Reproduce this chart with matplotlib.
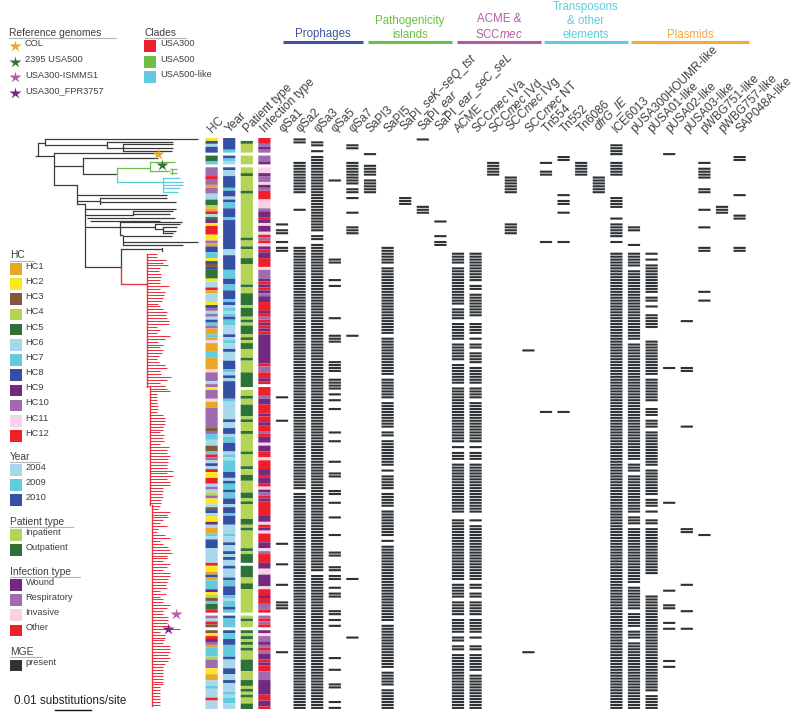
import matplotlib
matplotlib.use('Agg')
import matplotlib.pyplot as plt
from matplotlib.patches import Rectangle
from matplotlib.transforms import ScaledTranslation

plt.rcParams['font.family'] = ['Liberation Sans', 'DejaVu Sans']
plt.rcParams['mathtext.fontset'] = 'custom'
plt.rcParams['mathtext.rm'] = 'Liberation Sans'
plt.rcParams['mathtext.it'] = 'Liberation Sans:italic'
plt.rcParams['mathtext.default'] = 'regular'

W, H = 797, 720
TXT = '#3c3f42'
N_ROWS = 195

column_labels = ['HC', 'Year', 'Patient type', 'Infection type',
    'φSa1', 'φSa2', 'φSa3', 'φSa5', 'φSa7', 'SaPI3', 'SaPI5',
    r'SaPI_$\mathit{seK\mathrm{-}seQ\_tst}$', r'SaPI_$\mathit{ear}$', r'SaPI_$\mathit{ear\_seC\_seL}$',
    'ACME', r'SCC$\mathit{mec}$ IVa', r'SCC$\mathit{mec}$ IVd', r'SCC$\mathit{mec}$ IVg', r'SCC$\mathit{mec}$ NT',
    r'Tn$\mathit{554}$', 'Tn552', 'Tn6086', r'$\mathit{dfrG\_IE}$', 'ICE6013', 'pUSA300HOUMR-like',
    'pUSA01-like', 'pUSA02-like', 'pUSA03-like', 'pWBG751-like', 'pWBG757-like', 'SAP048A-like']

# strips: (first row, category); each run lasts until the next one. 0 = missing
hc_runs = [(0,2),(1,8),(2,6),(3,8),(5,0),(6,5),(8,7),(9,0),(10,10),(13,12),(14,10),(16,1),(17,10),(19,6),(21,5),(23,4),(24,1),(25,12),(26,6),(27,5),(28,9),(29,2),(30,12),(33,2),(35,10),(36,1),(37,8),(39,7),(41,2),(42,8),(43,3),(44,8),(45,5),(48,2),(49,6),(51,12),(52,1),(53,6),(56,2),(57,8),(58,10),(59,6),(60,10),(61,6),(62,8),(63,7),(64,10),(65,1),(67,7),(68,1),(69,11),(70,1),(73,7),(75,1),(79,11),(80,10),(83,6),(84,10),(85,2),(86,10),(89,11),(90,1),(92,10),(99,3),(100,10),(101,7),(103,6),(105,3),(107,7),(108,12),(109,10),(110,6),(111,8),(112,6),(113,12),(114,2),(116,12),(118,6),(119,10),(120,6),(121,4),(122,10),(123,2),(125,6),(126,3),(127,8),(128,6),(129,2),(131,9),(132,6),(133,1),(135,7),(136,6),(137,8),(140,6),(145,12),(146,2),(148,1),(149,8),(150,1),(151,7),(154,9),(155,2),(156,4),(157,3),(158,7),(159,5),(161,12),(162,0),(163,10),(164,6),(165,12),(166,3),(167,0),(168,3),(169,2),(170,12),(171,9),(172,10),(173,1),(174,7),(177,4),(178,10),(181,2),(183,1),(185,6),(187,7),(188,6),(191,12),(192,6)]
year_runs = [(0,3),(4,2),(5,0),(6,3),(7,2),(8,1),(9,0),(10,3),(11,1),(13,3),(17,2),(18,3),(20,1),(21,3),(22,2),(24,3),(27,2),(28,3),(38,1),(40,3),(45,2),(48,3),(50,2),(52,3),(55,2),(56,3),(57,1),(58,2),(59,1),(60,2),(61,3),(62,2),(64,1),(67,3),(68,1),(69,2),(70,1),(72,3),(73,1),(76,3),(79,2),(80,1),(81,3),(82,1),(83,3),(89,2),(90,1),(96,3),(97,1),(99,3),(101,1),(102,2),(104,3),(107,1),(108,2),(109,1),(110,2),(114,3),(116,1),(117,3),(118,2),(120,3),(121,2),(123,3),(125,1),(126,3),(128,2),(129,3),(132,1),(135,2),(136,1),(138,3),(139,1),(141,3),(142,1),(143,3),(144,1),(146,3),(147,1),(150,3),(151,2),(153,3),(156,2),(157,1),(158,2),(160,3),(161,2),(162,0),(163,3),(164,2),(167,0),(168,3),(169,2),(171,3),(173,2),(177,3),(178,1),(181,3),(183,1),(185,3),(186,1),(189,2),(190,1),(191,2),(193,1)]
patient_runs = [(0,0),(1,2),(2,1),(5,0),(6,1),(9,0),(10,1),(12,2),(13,1),(18,2),(19,1),(34,2),(35,1),(37,2),(38,1),(41,2),(43,1),(50,2),(51,1),(53,2),(57,1),(58,2),(61,1),(62,2),(63,1),(64,2),(67,1),(68,2),(69,1),(70,2),(72,1),(75,2),(76,1),(80,2),(85,0),(86,1),(88,2),(89,1),(91,2),(95,1),(96,2),(97,1),(100,2),(101,1),(107,2),(108,1),(112,2),(113,1),(115,2),(117,1),(121,2),(123,1),(124,2),(125,1),(130,2),(132,1),(133,2),(134,1),(140,2),(141,1),(142,2),(145,0),(146,2),(150,1),(152,2),(154,1),(162,0),(163,1),(164,2),(165,1),(167,0),(168,2),(169,1),(170,2),(171,1),(172,2),(173,1),(174,2),(175,1),(178,2),(182,1),(185,2),(187,1),(188,2),(189,1),(190,2),(191,1),(193,2)]
infection_runs = [(0,4),(2,2),(3,1),(4,2),(5,0),(6,2),(8,1),(9,0),(10,3),(12,1),(13,2),(15,3),(16,1),(17,2),(18,4),(21,3),(24,2),(25,1),(27,4),(28,1),(29,3),(30,1),(32,3),(33,4),(34,2),(35,4),(36,3),(37,1),(38,4),(39,1),(41,4),(44,3),(45,2),(48,1),(49,4),(50,1),(51,4),(52,1),(53,2),(54,1),(56,4),(59,1),(60,4),(61,2),(62,4),(63,1),(64,4),(65,1),(66,4),(67,1),(77,4),(78,2),(80,4),(82,1),(83,4),(84,0),(85,4),(88,2),(89,1),(91,4),(94,1),(95,4),(97,1),(98,4),(100,2),(101,4),(102,1),(104,3),(105,1),(107,4),(109,3),(110,4),(113,1),(115,4),(116,1),(118,4),(119,3),(120,1),(121,2),(122,4),(123,1),(124,4),(129,1),(131,3),(132,4),(133,1),(134,3),(135,4),(138,1),(140,3),(141,2),(142,4),(145,1),(147,3),(149,1),(153,3),(154,4),(156,1),(157,4),(159,2),(161,4),(162,0),(163,2),(164,4),(165,2),(166,4),(167,0),(168,1),(169,3),(170,2),(172,1),(173,2),(174,4),(175,2),(176,1),(178,4),(179,1),(180,4),(182,2),(185,1),(190,4),(192,1),(194,4)]

hc_names = ['HC1','HC2','HC3','HC4','HC5','HC6','HC7','HC8','HC9','HC10','HC11','HC12']
hc_colors = ['#E9A823','#F9E81F','#80593A','#B5D455','#2F7239','#A9D8EB','#62CBDF','#354FA3','#72297F','#A06AAE','#F9D2E4','#EE1F2D']
year_names = ['2004','2009','2010']
year_colors = ['#A9D8EB','#62CBDF','#354FA3']
patient_names = ['Inpatient','Outpatient']
patient_colors = ['#B5D455','#2F7239']
infection_names = ['Wound','Respiratory','Invasive','Other']
infection_colors = ['#72297F','#A06AAE','#F9D2E4','#EE1F2D']
MGE_COLOR = '#2C3236'

# MGE presence: inclusive row ranges per element
phiSa1 = [(29,29),(31,32),(35,35),(37,38),(88,88),(96,96),(138,138),(145,145),(152,152),(158,160),(175,175)]
phiSa2 = [(0,1),(8,18),(24,24),(37,119),(121,194)]
phiSa3 = [(1,2),(4,4),(6,31),(33,34),(36,147),(149,194)]
phiSa5 = [(14,14),(41,42),(48,48),(50,50),(61,61),(67,69),(76,79),(82,85),(87,87),(89,89),(92,92),(100,100),(103,103),(110,110),(114,115),(120,121),(124,124),(129,129),(135,135),(141,142),(146,147),(149,150),(153,153),(155,156),(161,162),(164,164),(166,166),(177,177),(181,181),(186,187),(192,192),(194,194)]
phiSa7 = [(2,3),(8,15),(17,18),(20,20),(25,25),(30,32),(67,67),(150,150),(170,170)]
SaPI3 = [(5,5),(9,12),(14,18)]
SaPI5 = [(37,42),(44,66),(68,80),(82,88),(90,98),(100,101),(103,111),(113,113),(115,119),(121,125),(127,135),(137,137),(139,164),(166,180),(182,186),(188,194)]
SaPI_seK = [(20,22)]
SaPI_ear = [(0,0),(23,25)]
SaPI_ear_seC = [(28,28),(33,33),(35,36)]
ACME = [(39,42),(44,56),(58,61),(63,68),(70,75),(77,83),(85,103),(105,105),(107,109),(111,127),(130,150),(152,156),(158,162),(164,168),(170,171),(173,174),(176,194)]
SCCmec_IVa = [(39,48),(50,51),(53,60),(63,66),(68,68),(70,71),(73,76),(78,83),(85,88),(90,103),(105,105),(107,109),(111,127),(130,130),(132,150),(152,153),(155,156),(158,162),(164,168),(170,170),(173,174),(176,181),(183,194)]
SCCmec_IVd = [(8,12)]
SCCmec_IVg = [(13,18),(29,32)]
SCCmec_NT = [(72,72),(175,175)]
Tn554 = [(8,8),(11,12),(35,35),(93,93)]
Tn552 = [(6,7),(19,19),(21,22),(25,25),(35,35),(93,93)]
Tn6086 = [(8,12)]
dfrG_IE = [(13,18)]
ICE6013 = [(2,5),(8,12),(20,23),(27,27),(29,33),(35,35),(39,194)]
pUSA300HOUMR = [(30,31),(36,36),(39,43),(45,68),(70,109),(111,113),(115,127),(129,131),(133,151),(153,160),(162,166),(168,170),(172,194)]
pUSA01 = [(39,39),(41,41),(43,52),(54,55),(57,57),(60,64),(69,80),(82,89),(92,94),(96,98),(100,111),(113,121),(123,125),(127,127),(130,131),(133,148),(156,188),(190,194)]
pUSA02 = [(5,5),(78,78),(124,124),(154,154),(159,160),(165,165),(167,167),(178,178),(180,180)]
pUSA03 = [(62,62),(78,79),(98,98),(133,134),(152,152),(161,161),(167,167)]
pWBG751 = [(8,8),(10,13),(17,18),(24,24),(30,30),(37,38),(52,52),(55,55),(135,135)]
pWBG757 = [(23,25)]
SAP048A = [(6,7),(19,19),(26,27),(37,38)]
mge_columns = [phiSa1,phiSa2,phiSa3,phiSa5,phiSa7,SaPI3,SaPI5,SaPI_seK,SaPI_ear,SaPI_ear_seC,ACME,SCCmec_IVa,SCCmec_IVd,SCCmec_IVg,SCCmec_NT,Tn554,Tn552,Tn6086,dfrG_IE,ICE6013,pUSA300HOUMR,pUSA01,pUSA02,pUSA03,pWBG751,pWBG757,SAP048A]

# phylogeny in figure pixels
black_h = [(35,38,155.7),(38,54,155.7),(38,45.3,142.7),(45.3,198.3,139.3),(45.3,106.7,145),(106.7,173.3,142.3),(106.7,123.3,147.7),(123.3,173.3,144.3),(123.3,173.3,147.7),(123.3,171.7,150.7),
           (54.3,156.7,153.3),(54.3,83.3,165.7),(83.3,158.3,158.3),(83.3,116.7,174),(54.3,77.3,185),(77.3,166.7,195),(77.3,100,201),(100,175.7,202.3),(100,166.7,198.3),(77.3,85,204),
           (85,176,209.3),(85,133.3,215),(133.3,173.3,210.7),(133.3,170,214.3),(86.7,175,218.3),(90,160,221),(85,120,226.7),(120,182.3,221.7),(120,155,226.7),(155,180,224),(155,163.3,229.3),(163.3,176.7,226.7),(163.3,176,230.7),(163.3,173.3,233.3),(120,123.3,235),(123.3,171.7,236),(123.3,198.3,241.7),(123.3,182.7,245),(85,120.7,266.7),(120.7,161.7,249.3)]
black_v = [(37.7,142.7,155.7),(45.3,139.3,145),(106.7,142.3,147.7),(123.3,144.3,150.7),(54.3,153.3,185),(83.3,158.3,174),(77.3,185,204),(100,198.3,203.5),(85,204,266.7),(133.3,210.7,215),(120,221.7,235),(155,224,229.3),(163.3,226.7,233.3),(123.3,236,245),(120.7,249.3,266.7),(161.7,247.5,251)]
green_h = [(116.7,150,167.7),(150,175,162.3),(150,170,170.7),(170,176.7,169),(170,176.7,173.3)]
green_v = [(116.7,167.7,174),(150,162.3,170.7),(171.7,168.7,173.7)]
cyan_h = [(116.7,163.3,181.7),(163.3,180,178.3),(163.3,182.7,181.7),(163.3,182.7,185),(163.3,180,188.3),(163.3,178.3,191.7)]
cyan_v = [(116.7,174,181.7),(163.3,178.3,191.7)]
red_h = [(120.7,147,284)]
red_v = [(120.7,266.7,284),(147,254,387),(150,387,505),(152.5,505,706)]

# red clade tips: first tip row, then tip end in pixels for successive rows
red_first_row = 39
red_tip_ends = [157,157,166,163,168,160,159,161,161,160,160,169,160,165,164,163,162,158,160,163,167,166,167,169,169,157,160,157,170,165,158,163,160,163,162,159,157,159,165,167,160,161,171,167,160,165,167,170,157,157,157,157,158,158,157,163,165,165,165,163,163,160,164,163,164,160,169,167,167,170,168,168,167,167,173,167,173,167,170,170,163,163,162,163,161,161,160,158,170,167,168,163,160,167,158,157,165,170,160,163,168,170,172,167,167,163,170,167,163,170,170,168,167,166,167,160,166,160,163,163,170,167,163,163,168,168,167,170,180,160,165,165,164,163,170,170,170,168,170,168,165,163,163,163,163,163,163,163,160,160,160,160,160,160,160,160]

reference_names = ['COL','2395 USA500','USA300-ISMMS1','USA300_FPR3757']
reference_colors = ['#E9A823','#2F7239','#B65CA6','#72297F']
reference_tree_x = [157.7,162,176,168.3]
reference_tree_y = [154,165,614,629]
clade_names = ['USA300','USA500','USA500-like']
clade_colors = ['#EE1F2D','#6CBE45','#62CBDF']

group_names = ['Prophages','Pathogenicity\nislands','ACME &\nSCC$\\mathit{mec}$','Transposons\n& other\nelements','Plasmids']
group_colors = ['#3F55A4','#6CBE45','#B35AA4','#62CBDF','#F3A93C']
group_spans = [(283,363),(368,452),(457,541),(544,628),(631,749)]

fig = plt.figure(figsize=(W/100, H/100), dpi=100, facecolor='white')

ov = fig.add_axes([0, 0, 1, 1])
ov.set_xlim(0, W); ov.set_ylim(H, 0); ov.axis('off')

PITCH = 17.6
x_left = 282 - 4*PITCH - PITCH/2
x_right = 282 + 26*PITCH + PITCH/2
y_top, y_bot = 138, 138 + 2.93*N_ROWS
ax = fig.add_axes([x_left/W, 1 - y_bot/H, (x_right - x_left)/W, (y_bot - y_top)/H])
ax.set_xlim(-4.5, 26.5); ax.set_ylim(N_ROWS, 0)
ax.patch.set_alpha(0)
for s in ax.spines.values():
    s.set_visible(False)
ax.set_yticks([])
ax.xaxis.tick_top()
ax.set_xticks(range(-4, 27))
ax.set_xticklabels(column_labels, rotation=45, ha='left', va='bottom', rotation_mode='anchor', fontsize=8.6, color=TXT)
ax.tick_params(axis='x', length=0, pad=2)
off = ScaledTranslation(3/100, 0, fig.dpi_scale_trans)
for lab in ax.get_xticklabels():
    lab.set_transform(lab.get_transform() + off)

strips = [(hc_runs, hc_colors), (year_runs, year_colors), (patient_runs, patient_colors), (infection_runs, infection_colors)]
BW = 12.2/PITCH
for i, (runs, cols) in enumerate(strips):
    col = i - 4
    for j, (start, code) in enumerate(runs):
        end = runs[j+1][0] if j + 1 < len(runs) else N_ROWS
        if code:
            bars = ax.barh(start, BW, left=col - BW/2, height=end - start, align='edge', color=cols[code-1], lw=0)
            for b in bars:
                b.set_snap(False)

for c, ranges in enumerate(mge_columns):
    for a, b in ranges:
        for r in range(a, b + 1):
            bars = ax.barh(r + 0.5, BW, left=c - BW/2, height=0.72, color=MGE_COLOR, lw=0)
            for p in bars:
                p.set_snap(False)

BLK, RED, GRN, CYA = '#3a3a3a', '#E8343F', '#6CBE45', '#62CBDF'
def draw(h, v, color, lw=0.9):
    for x0, x1, y in h:
        ov.plot([x0, x1], [y, y], color=color, lw=lw, solid_capstyle='butt')
    for x, y0, y1 in v:
        ov.plot([x, x], [y0, y1], color=color, lw=lw, solid_capstyle='projecting')
draw(black_h, black_v, BLK)
draw(green_h, green_v, GRN)
draw(cyan_h, cyan_v, CYA)
draw(red_h, red_v, RED, 1.0)
for i, end in enumerate(red_tip_ends):
    y = y_top + (red_first_row + i + 0.5)*2.93
    if y > 706.5:
        break
    x0 = 147 if y < 387 else (150 if y < 505 else 152.5)
    ov.plot([x0, end], [y, y], color=RED, lw=0.75, solid_capstyle='butt')
for n, c, x, y in zip(reference_names, reference_colors, reference_tree_x, reference_tree_y):
    ov.plot([x], [y], marker='*', ms=8.8, color=c, mec='none', zorder=5)

FS = 6.7
def head(x, y, s, x1):
    ov.text(x, y, s, fontsize=7.4, color=TXT, va='center', ha='left')
    ov.plot([x, x1], [y+5, y+5], color='#b5b5b5', lw=0.8)
def block(x, ys, names, colors, tx=25.6, sz=11.6):
    for y, n, c in zip(ys, names, colors):
        ov.add_patch(Rectangle((x, y), sz, sz, fc=c, ec='none'))
        ov.text(tx, y + 3.2, n, fontsize=FS, color=TXT, va='center', ha='left')

head(9, 33, 'Reference genomes', 116)
for n, c, ys, yt in zip(reference_names, reference_colors, [46, 62, 77, 93], [43.5, 59, 75, 91]):
    ov.plot([14.7], [ys], marker='*', ms=8.8, color=c, mec='none')
    ov.text(25, yt, n, fontsize=FS, color=TXT, va='center', ha='left')
head(145, 32.5, 'Clades', 186)
block(144.5, [40, 56, 71], clade_names, clade_colors, tx=160)

head(10, 255.5, 'HC', 34)
block(10, [263 + 15.2*i for i in range(12)], hc_names, hc_colors)
head(10, 457, 'Year', 40)
block(10, [464, 479.2, 494.4], year_names, year_colors)
head(10, 522, 'Patient type', 73)
block(10, [529, 544], patient_names, patient_colors)
head(10, 572, 'Infection type', 80)
block(10, [579, 594, 609, 624.7], infection_names, infection_colors)
head(10, 652, 'MGE', 42)
block(10, [659.5], ['present'], [MGE_COLOR])

ov.text(14, 701.5, '0.01 substitutions/site', fontsize=8.4, color='#222222', va='center', ha='left')
ov.plot([55, 91.5], [710, 710], color='#111111', lw=1.0)

for name, c, (a, b) in zip(group_names, group_colors, group_spans):
    ov.plot([a, b], [42, 42], color=c, lw=2.2, solid_capstyle='butt')
    ov.text((a + b)/2, 40.5, name, fontsize=8.3, color=c, ha='center', va='bottom', linespacing=1.2)

fig.savefig('out.png', dpi=100)
